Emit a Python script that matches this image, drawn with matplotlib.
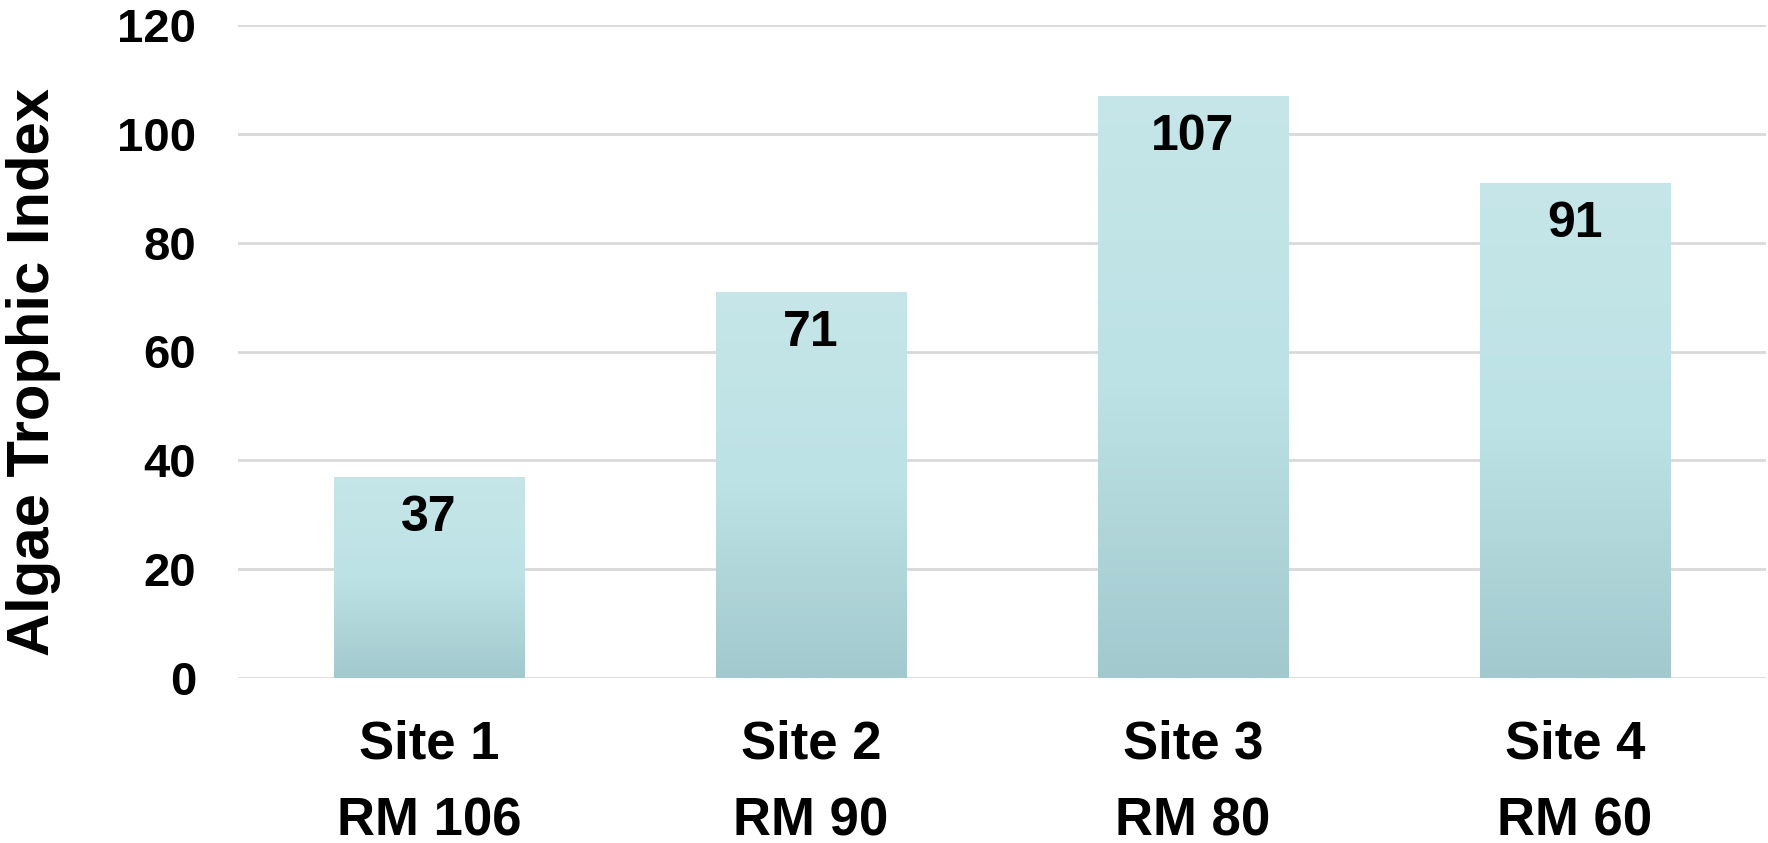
import numpy as np
import matplotlib.pyplot as plt
from matplotlib.colors import LinearSegmentedColormap

plt.rcParams['font.family'] = ['Liberation Sans', 'DejaVu Sans']
plt.rcParams['font.weight'] = 'bold'

sites = ["Site 1", "Site 2", "Site 3", "Site 4"]
river_miles = ["RM 106", "RM 90", "RM 80", "RM 60"]
trophic_index = [37, 71, 107, 91]
y_ticks = [0, 20, 40, 60, 80, 100, 120]

fig = plt.figure(figsize=(17.68, 8.43), dpi=100)
ax = fig.add_axes([238 / 1768, 1 - 678 / 843, (1766 - 238) / 1768, (678 - 25) / 843])

# bars are drawn invisible, then filled with a vertical gradient
x = np.arange(len(sites))
bars = ax.bar(x, trophic_index, width=0.5, color='none', edgecolor='none', zorder=2)

grad = LinearSegmentedColormap.from_list(
    'bar_grad', [(0.0, '#a2c9cd'), (0.5, '#bce2e5'), (1.0, '#c6e6e9')])
g = np.linspace(0, 1, 256).reshape(-1, 1)
for b in bars:
    x0, y0 = b.get_x(), b.get_y()
    im = ax.imshow(g, cmap=grad, aspect='auto', origin='lower',
                   extent=[x0, x0 + b.get_width(), y0, y0 + b.get_height()], zorder=2)
    im.set_clip_path(b)

for xi, v in zip(x, trophic_index):
    ax.annotate(str(v), (xi, v), xytext=(0, -30), textcoords='offset points',
                ha='center', va='center', fontsize=36, fontweight='bold', zorder=3)

ax.set_xlim(-0.5, 3.5)
ax.set_ylim(0, 120)
ax.set_yticks(y_ticks)
ax.set_xticks(x)
ax.set_xticklabels([s + "\n" + r for s, r in zip(sites, river_miles)],
                   fontsize=38, fontweight='bold', linespacing=1.68)
ax.tick_params(axis='y', labelsize=34, length=0, pad=30)
ax.tick_params(axis='x', length=0, pad=30)

ax.grid(axis='y', color='#d9d9d9', linewidth=2, zorder=0)
ax.set_axisbelow(True)
for sp in ax.spines.values():
    sp.set_visible(False)

fig.text(34 / 1768, 1 - 372 / 843, "Algae Trophic Index", rotation=90,
         ha='center', va='center', fontsize=43, fontweight='bold')

fig.savefig('out.png', dpi=100)
